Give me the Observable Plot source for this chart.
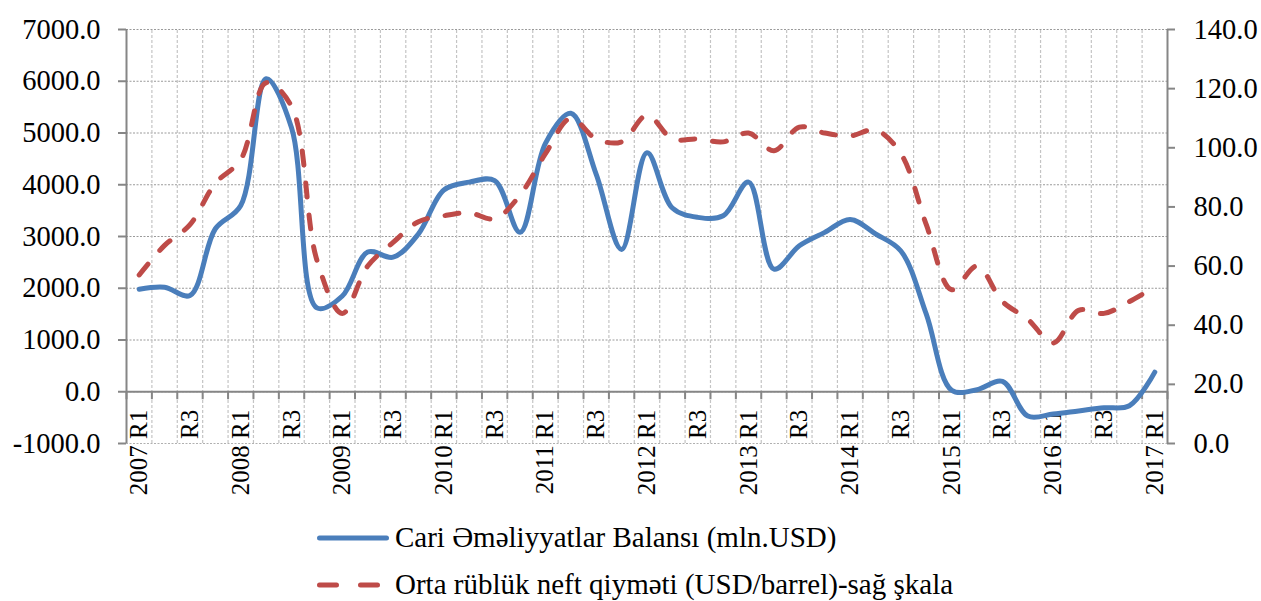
<!DOCTYPE html>
<html>
<head>
<meta charset="utf-8">
<script src="https://cdn.jsdelivr.net/npm/d3@7"></script>
<script src="https://cdn.jsdelivr.net/npm/@observablehq/plot@0.6"></script>
<style>
  html, body { margin: 0; padding: 0; background: #fff; overflow: hidden; }
  #chart svg { display: block; }
  #legend { font-family: "Liberation Serif", "Times New Roman", serif; font-size: 29px; color: #000; padding-left: 317px; margin-top: 4px; }
  .row { height: 47px; display: flex; align-items: center; }
  .row svg { display: block; flex: none; }
  .row span { margin-left: 3px; white-space: nowrap; }
</style>
</head>
<body>
<div id="chart"></div>
<div id="legend"></div>
<script>
// Quarterly categories, 2007 R1 .. 2017 R1
const categories = [
  "2007 R1","2007 R2","2007 R3","2007 R4",
  "2008 R1","2008 R2","2008 R3","2008 R4",
  "2009 R1","2009 R2","2009 R3","2009 R4",
  "2010 R1","2010 R2","2010 R3","2010 R4",
  "2011 R1","2011 R2","2011 R3","2011 R4",
  "2012 R1","2012 R2","2012 R3","2012 R4",
  "2013 R1","2013 R2","2013 R3","2013 R4",
  "2014 R1","2014 R2","2014 R3","2014 R4",
  "2015 R1","2015 R2","2015 R3","2015 R4",
  "2016 R1","2016 R2","2016 R3","2016 R4",
  "2017 R1"
];
// Displayed category labels (every second quarter)
const tickLabels = [
  "2007 R1","R3","2008 R1","R3","2009 R1","R3","2010 R1","R3","2011 R1","R3",
  "2012 R1","R3","2013 R1","R3","2014 R1","R3","2015 R1","R3","2016 R1","R3","2017 R1"
];
// Current account balance, mln USD (left axis)
const currentAccount = [
  1980, 2020, 1860, 3150,
  3600, 6050, 5100, 1620,
  1850, 2700, 2600, 3050,
  3900, 4050, 4080, 3080,
  4800, 5380, 4200, 2750,
  4620, 3550, 3370, 3400,
  4050, 2370, 2820, 3080,
  3330, 3050, 2720, 1500,
  30, 40, 200, -470,
  -430, -370, -310, -270,
  380
];
// Average quarterly oil price, USD/barrel (right axis)
const oilPrice = [
  57, 67, 74, 88,
  96, 122, 114, 62,
  44, 60, 68, 75,
  77, 78, 76, 84,
  98, 110, 103, 102,
  111, 103, 103, 102,
  105, 99, 107, 105,
  104, 106, 98, 74,
  52, 60, 48, 42,
  34, 45, 44, 48,
  53
];
const leftTicks = [-1000, 0, 1000, 2000, 3000, 4000, 5000, 6000, 7000];
const leftTickLabels = ["-1000.0","0.0","1000.0","2000.0","3000.0","4000.0","5000.0","6000.0","7000.0"];
const rightTicks = [0, 20, 40, 60, 80, 100, 120, 140];
const rightTickLabels = ["0.0","20.0","40.0","60.0","80.0","100.0","120.0","140.0"];
const seriesNames = ["Cari Əməliyyatlar Balansı (mln.USD)", "Orta rüblük neft qiyməti (USD/barrel)-sağ şkala"];

const blue = "#4A7EBB", red = "#BE4B48", axisGray = "#868686";
const yMin = -1000, yMax = 7000, rMin = 0, rMax = 140;
const toLeft = v => yMin + (v - rMin) * (yMax - yMin) / (rMax - rMin);

const data = categories.map((c, i) => ({i, c, cab: currentAccount[i], oil: oilPrice[i]}));
const n = categories.length;
const boundaries = d3.range(n + 1).map(k => k - 0.5);
const labelIdx = d3.range(0, n, 2);

const W = 1261, H = 510, mL = 126, mR = 94, mT = 29, mB = 67;
const pxX = (n) / (W - mL - mR);          // data units per pixel (x)
const pxY = (yMax - yMin) / (H - mT - mB); // data units per pixel (y)
const tickLen = 8;

const font = "Liberation Serif";

const chart = Plot.plot({
  width: W, height: H,
  marginLeft: mL, marginRight: mR, marginTop: mT, marginBottom: mB,
  x: {type: "linear", domain: [-0.5, n - 0.5], axis: null},
  y: {type: "linear", domain: [yMin, yMax], axis: null},
  style: {fontFamily: font, background: "#fff"},
  marks: [
    // horizontal grid
    Plot.ruleY(leftTicks.slice(1), {stroke: "#9a9a9a", strokeWidth: 1, strokeDasharray: "2,1.5"}),
    Plot.ruleY([yMin], {stroke: "#b0b0b0", strokeWidth: 1, strokeDasharray: "2,1.5"}),
    // vertical grid
    Plot.ruleX(boundaries.slice(1, -1), {y1: yMin, y2: yMax, stroke: "#c4c4c4", strokeWidth: 1.2, strokeDasharray: "3,2"}),
    // category axis at 0
    Plot.ruleY([0], {stroke: axisGray, strokeWidth: 2}),
    Plot.ruleX(boundaries, {y1: 0, y2: -tickLen * pxY, stroke: axisGray, strokeWidth: 2}),
    // left axis
    Plot.ruleX([-0.5], {y1: yMin, y2: yMax, stroke: axisGray, strokeWidth: 2}),
    Plot.ruleY(leftTicks, {x1: -0.5 - tickLen * pxX, x2: -0.5, stroke: axisGray, strokeWidth: 2}),
    Plot.text(leftTicks, {x: -0.5, y: d => d, text: (d, k) => leftTickLabels[k], dx: -26, textAnchor: "end", fontSize: 28.5, fill: "#000"}),
    // right axis
    Plot.ruleX([n - 0.5], {y1: yMin, y2: yMax, stroke: axisGray, strokeWidth: 2}),
    Plot.ruleY(rightTicks.map(toLeft), {x1: n - 0.5, x2: n - 0.5 + tickLen * pxX, stroke: axisGray, strokeWidth: 2}),
    Plot.text(rightTicks, {x: n - 0.5, y: d => toLeft(d), text: (d, k) => rightTickLabels[k], dx: 26, textAnchor: "start", fontSize: 28.5, fill: "#000"}),
    // category labels
    Plot.text(labelIdx, {x: d => d, y: 0, text: (d, k) => tickLabels[k], rotate: -90, textAnchor: "end", lineAnchor: "middle", dy: 18, fontSize: 25, fill: "#000"}),
    // series
    Plot.line(data, {x: "i", y: "cab", stroke: blue, strokeWidth: 5, strokeLinecap: "round", strokeLinejoin: "round", curve: "catmull-rom"}),
    Plot.line(data, {x: "i", y: d => toLeft(d.oil), stroke: red, strokeWidth: 5, strokeDasharray: "14,18", strokeLinecap: "round", curve: "catmull-rom"})
  ]
});
document.getElementById("chart").appendChild(chart);

// legend
const legend = document.getElementById("legend");
legend.innerHTML = `
  <div class="row"><svg width="75" height="12"><line x1="2.5" x2="69.5" y1="6" y2="6" stroke="${blue}" stroke-width="5" stroke-linecap="round"/></svg><span>${seriesNames[0]}</span></div>
  <div class="row"><svg width="75" height="12"><line x1="2.5" x2="60.5" y1="6" y2="6" stroke="${red}" stroke-width="5" stroke-linecap="round" stroke-dasharray="17,24"/></svg><span>${seriesNames[1]}</span></div>`;
</script>
</body>
</html>
